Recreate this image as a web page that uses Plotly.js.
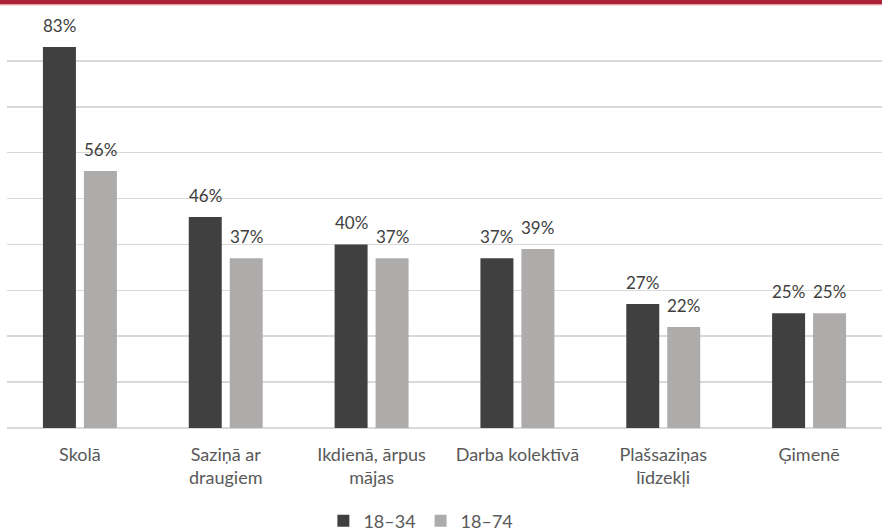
<!DOCTYPE html>
<html><head><meta charset="utf-8">
<script src="https://cdn.plot.ly/plotly-3.0.1.min.js"></script>
<style>html,body{margin:0;padding:0;background:#fff}#c{width:882px;height:531px}</style>
</head><body><div id="c"></div>
<script>
const categories = ["Skolā", "Saziņā ar<br>draugiem", "Ikdienā, ārpus<br>mājas", "Darba kolektīvā", "Plašsaziņas<br>līdzekļi", "Ģimenē"];
const series1Name = "18–34";
const series2Name = "18–74";
const series1 = [83, 46, 40, 37, 27, 25];
const series2 = [56, 37, 37, 39, 22, 25];

const font = "Lato, 'Open Sans', sans-serif";
function trace(name, vals, color) {
  return {
    type: "bar", name: name, x: categories, y: vals,
    marker: {color: color}, hoverinfo: "skip"
  };
}
const data = [trace(series1Name, series1, "#404040"), trace(series2Name, series2, "#AEABAB")];
const annotations = [];
[[series1, -20.5], [series2, 20.5]].forEach(([vals, dx]) => {
  vals.forEach((v, i) => annotations.push({
    x: categories[i], y: v, xref: "x", yref: "y", xshift: dx, yshift: 9,
    text: v + "%", showarrow: false, yanchor: "bottom", xanchor: "center",
    font: {family: font, size: 17, color: "#404040"}
  }));
});
const H = 413;
const layout = {
  width: 882, height: 531,
  margin: {l: 7, r: 0, t: 15, b: 103, autoexpand: false},
  paper_bgcolor: "#fff", plot_bgcolor: "#fff",
  barmode: "group", bargap: 0.438, bargroupgap: 0.195,
  font: {family: font, color: "#595959", size: 18},
  xaxis: {
    type: "category", showgrid: false, zeroline: false, automargin: false,
    showline: false, ticks: "outside", ticklen: 10, tickcolor: "rgba(0,0,0,0)",
    tickfont: {family: font, size: 18, color: "#595959"}
  },
  yaxis: {
    range: [0, 90], dtick: 10, showticklabels: false, ticks: "", automargin: false,
    gridcolor: "#D9D9D9", gridwidth: 1.5, zeroline: true, zerolinecolor: "#D9D9D9", zerolinewidth: 1.5
  },
  showlegend: true,
  legend: {orientation: "h", x: 0.473, xanchor: "center", y: -93 / H, yanchor: "middle",
           font: {family: font, size: 18, color: "#595959"}, itemwidth: 30, traceorder: "normal"},
  annotations: annotations,
  shapes: [{type: "rect", xref: "paper", yref: "paper", x0: -0.02, x1: 1.02,
            y0: 1 + 10.5 / H, y1: 1 + 16 / H, fillcolor: "#AC2336", line: {width: 0}, layer: "above"},
           {type: "line", xref: "paper", yref: "paper", x0: -0.02, x1: 1.02,
            y0: 1 + 10 / H, y1: 1 + 10 / H, line: {color: "#E8B5BC", width: 1}}]
};
Plotly.newPlot("c", data, layout, {displayModeBar: false, staticPlot: true});
</script></body></html>
